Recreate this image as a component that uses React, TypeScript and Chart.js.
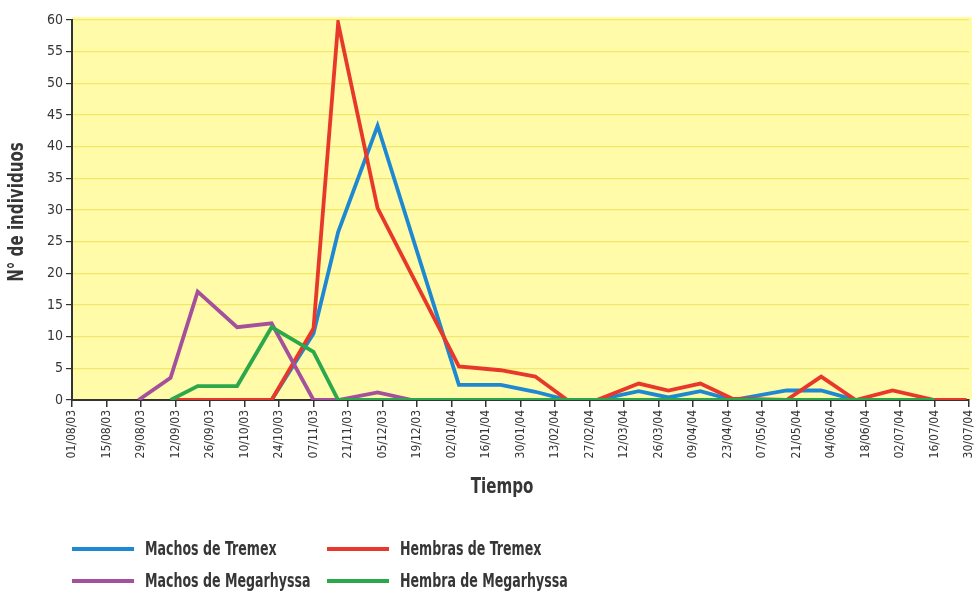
import React, { useEffect, useRef } from "react";
import { Chart, registerables } from "chart.js";

Chart.register(...registerables);

const xLabels = [
  "01/08/03", "15/08/03", "29/08/03", "12/09/03", "26/09/03", "10/10/03", "24/10/03",
  "07/11/03", "21/11/03", "05/12/03", "19/12/03", "02/01/04", "16/01/04", "30/01/04",
  "13/02/04", "27/02/04", "12/03/04", "26/03/04", "09/04/04", "23/04/04", "07/05/04",
  "21/05/04", "04/06/04", "18/06/04", "02/07/04", "16/07/04", "30/07/04",
];
const tickStepDays = 14;

// days since 01/08/03 of each sample
const sampleDays = [27, 40, 51, 67, 81, 98, 108, 124, 138, 157, 174, 188, 201, 213, 230, 242, 255, 268, 290, 304, 318, 333, 350, 363];

const machosTremex = [null, 0, 0, 0, 0, 10.5, 26.5, 43.3, null, 2.4, 2.4, 1.3, 0, 0, 1.4, 0.4, 1.4, 0, 1.5, 1.5, 0, 0, 0, null];
const hembrasTremex = [null, 0, 0, 0, 0, 11.3, 59.5, 30.3, null, 5.3, 4.7, 3.7, 0, 0, 2.6, 1.5, 2.6, 0.2, 0, 3.7, 0, 1.5, 0, 0];
const machosMegarhyssa = [0, 3.5, 17.1, 11.5, 12.1, 0, 0, 1.2, 0, 0, 0, 0, 0, 0, 0, 0, 0, 0, 0, 0, 0, 0, 0, null];
const hembraMegarhyssa = [null, 0, 2.2, 2.2, 11.5, 7.6, 0, 0, 0, 0, 0, 0, 0, 0, 0, 0, 0, 0, 0, 0, 0, 0, 0, null];

const seriesNames = ["Machos de Tremex", "Hembras de Tremex", "Machos de Megarhyssa", "Hembra de Megarhyssa"];
const seriesColors = ["#1E88D2", "#E8382C", "#A4509C", "#2CA84C"];

const yTitle = "N° de individuos";
const xTitle = "Tiempo";

const FONT = "'Liberation Sans Narrow', 'DejaVu Sans Condensed', 'Arial Narrow', sans-serif";
const TEXT = "#363636";

const toPoints = (arr: (number | null)[]) => sampleDays.map((d, i) => ({ x: d, y: arr[i] }));

export default function App() {
  const ref = useRef<HTMLCanvasElement | null>(null);

  useEffect(() => {
    if (!ref.current) return;
    const bgPlugin = {
      id: "bg",
      beforeDraw(chart: any) {
        const { ctx, chartArea } = chart;
        const { left, top, right, bottom } = chartArea;
        ctx.save();
        ctx.fillStyle = "#FFFBA8";
        ctx.fillRect(left, top - 3, right - left + 3, bottom - top + 3);
        ctx.restore();
      },
      afterDraw(chart: any) {
        const { ctx, chartArea } = chart;
        ctx.save();
        ctx.fillStyle = TEXT;
        ctx.font = `bold 21px ${FONT}`;
        ctx.textAlign = "center";
        ctx.textBaseline = "middle";
        // x title (condensed)
        ctx.save();
        ctx.translate(502, 488);
        ctx.scale(0.8, 1);
        ctx.fillText(xTitle, 0, 0);
        ctx.restore();
        // y title (rotated, condensed)
        ctx.save();
        ctx.translate(18, (chartArea.top + chartArea.bottom) / 2 + 2);
        ctx.rotate(-Math.PI / 2);
        ctx.scale(0.8, 1);
        ctx.fillText(yTitle, 0, 0);
        ctx.restore();
        ctx.restore();
      },
    };
    const series = [machosTremex, hembrasTremex, machosMegarhyssa, hembraMegarhyssa];
    const chart = new Chart(ref.current, {
      type: "line",
      data: {
        datasets: series.map((s, i) => ({
          label: seriesNames[i],
          data: toPoints(s),
          borderColor: seriesColors[i],
          backgroundColor: seriesColors[i],
          borderWidth: 3.8,
          pointRadius: 0,
          tension: 0,
          spanGaps: true,
          order: 3 - i,
        })),
      },
      options: {
        responsive: false,
        animation: false,
        layout: { padding: { left: 0, top: 20, right: 7, bottom: 0 } },
        plugins: { legend: { display: false }, tooltip: { enabled: false } },
        scales: {
          x: {
            type: "linear",
            min: 0,
            max: (xLabels.length - 1) * tickStepDays,
            afterBuildTicks: (axis: any) => {
              axis.ticks = xLabels.map((_, i) => ({ value: i * tickStepDays }));
            },
            afterFit: (s: any) => {
              s.height = 191;
              s.paddingLeft = 0;
              s.paddingRight = 0;
            },
            ticks: {
              autoSkip: false,
              minRotation: 90,
              maxRotation: 90,
              padding: 3,
              color: TEXT,
              font: { family: FONT, size: 12 },
              callback: (v: any) => xLabels[Math.round(Number(v) / tickStepDays)] ?? "",
            },
            grid: { drawOnChartArea: false, tickLength: 7, tickColor: "#333", lineWidth: 1.5 },
            border: { color: "#333", width: 2 },
          },
          y: {
            min: 0,
            max: 60,
            afterFit: (s: any) => { s.width = 72; },
            ticks: {
              stepSize: 5,
              padding: 3,
              color: TEXT,
              font: { family: FONT, size: 14 },
            },
            grid: { color: "#F4E868", tickColor: "#333", tickLength: 6, lineWidth: 1.2 },
            border: { color: "#333", width: 2 },
          },
        },
      },
      plugins: [bgPlugin],
    } as any);
    return () => chart.destroy();
  }, []);

  const legendRows = [
    [0, 1],
    [2, 3],
  ];
  const rowY = [549, 581];
  const colLineX = [72, 327];
  const colTextX = [145, 400];

  return (
    <div style={{ position: "fixed", left: 0, top: 0, width: 976, height: 591, background: "#fff" }}>
      <canvas ref={ref} width={976} height={591} style={{ position: "absolute", left: 0, top: 0 }} />
      {legendRows.map((row, r) =>
        row.map((si, c) => (
          <React.Fragment key={`${r}-${c}`}>
            <div
              style={{
                position: "absolute",
                left: colLineX[c],
                top: rowY[r] - 2,
                width: 62,
                height: 4,
                background: seriesColors[si],
              }}
            />
            <div
              style={{
                position: "absolute",
                left: colTextX[c],
                top: rowY[r] - 13,
                height: 24,
                lineHeight: "24px",
                fontFamily: FONT,
                fontWeight: "bold",
                fontSize: 20,
                color: TEXT,
                whiteSpace: "nowrap",
                transform: "scaleX(0.7)",
                transformOrigin: "left center",
              }}
            >
              {seriesNames[si]}
            </div>
          </React.Fragment>
        ))
      )}
    </div>
  );
}
